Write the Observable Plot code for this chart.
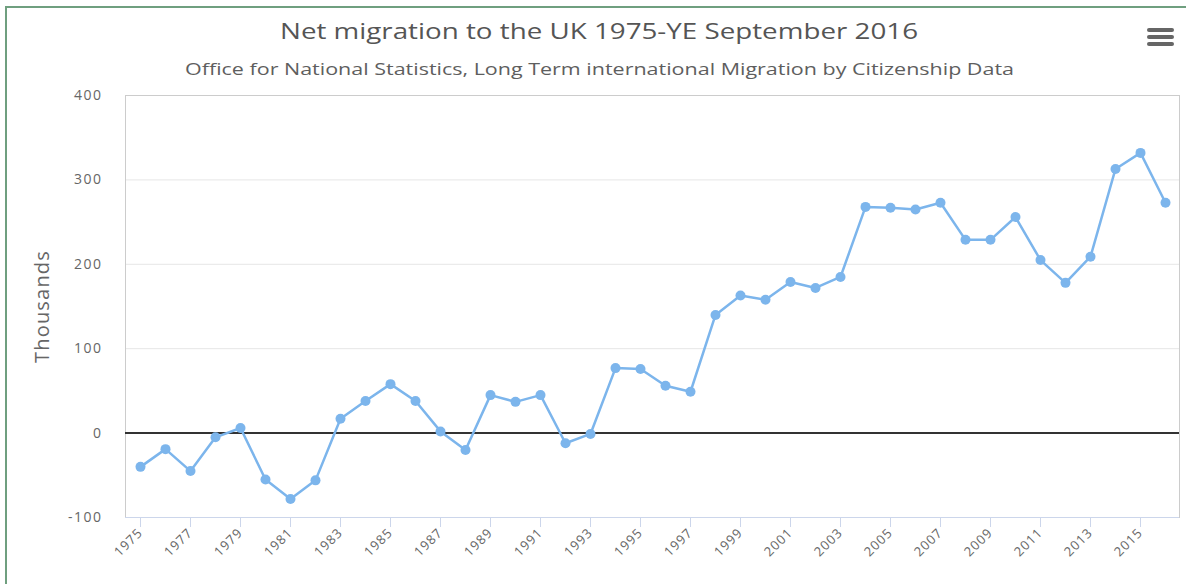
<!DOCTYPE html>
<html><head><meta charset="utf-8">
<script src="https://cdn.jsdelivr.net/npm/d3@7"></script>
<script src="https://cdn.jsdelivr.net/npm/@observablehq/plot@0.6"></script>
<style>
body{margin:0;background:#fff;font-family:"Open Sans",sans-serif;overflow:hidden}
#wrap{position:relative;width:1186px;height:584px;overflow:hidden}
#frame{position:absolute;left:5px;top:6px;width:1200px;height:600px;border:2px solid #6f9f7f;box-sizing:border-box;pointer-events:none}
#head{height:85px;position:relative}
#title{position:absolute;top:21px;left:280px;font-size:21px;line-height:21px;color:#555;white-space:nowrap;display:inline-block;transform-origin:0 0}
#subtitle{position:absolute;top:60px;left:185px;font-size:17px;line-height:17px;color:#5e5e5e;white-space:nowrap;display:inline-block;transform-origin:0 0}
#menu{position:absolute;left:1147px;top:28px;width:27px}
#menu div{height:4px;border-radius:2px;background:#666;margin-bottom:3px}
#chart svg{display:block}
</style></head>
<body>
<div id="wrap">
  <div id="head">
    <span id="title">Net migration to the UK 1975-YE September 2016</span>
    <span id="subtitle">Office for National Statistics, Long Term international Migration by Citizenship Data</span>
    <div id="menu"><div></div><div></div><div></div></div>
  </div>
  <div id="chart"></div>
  <div id="frame"></div>
</div>
<script>
const years = [1975,1976,1977,1978,1979,1980,1981,1982,1983,1984,1985,1986,1987,1988,1989,1990,1991,1992,1993,1994,1995,1996,1997,1998,1999,2000,2001,2002,2003,2004,2005,2006,2007,2008,2009,2010,2011,2012,2013,2014,2015,2016];
const values = [-40,-19,-45,-5,6,-55,-78,-56,17,38,58,38,2,-20,45,37,45,-12,-1,77,76,56,49,140,163,158,179,172,185,268,267,265,273,229,229,256,205,178,209,313,332,273];
const yTicks = [-100,0,100,200,300,400];
const xTickLabels = years.filter((y,i)=>i%2===0).map(String);
const yLabel = ["Thousands"];

function fit(id, target){
  const el = document.getElementById(id);
  const w = el.getBoundingClientRect().width;
  el.style.transform = `scaleX(${target / w})`;
}
fit("title", 638);
fit("subtitle", 829);

const data = years.map((y,i)=>({year:String(y), value:values[i]}));

const chart = Plot.plot({
  width:1186, height:499,
  marginTop:10, marginBottom:67, marginLeft:125, marginRight:7,
  style:{fontFamily:"'Open Sans', sans-serif", fontSize:"12px", color:"#666", background:"transparent"},
  x:{type:"point", domain:years.map(String), padding:0.5, label:null},
  y:{domain:[-100,400], label:null},
  marks:[
    Plot.gridY(yTicks.filter(d=>d!==-100 && d!==400), {stroke:"#e6e6e6", strokeOpacity:1}),
    Plot.frame({stroke:"#cccccc"}),
    Plot.ruleY([-100], {stroke:"#ccd6eb"}),
    Plot.ruleY([0], {stroke:"#333333", strokeWidth:2}),
    Plot.axisY(yTicks, {tickSize:0, tickPadding:23, fontSize:14, fill:"#666", label:null, tickFormat:d=>String(d)}),
    Plot.axisX(xTickLabels, {tickSize:10, stroke:"#ccd6eb", strokeOpacity:1, tickRotate:-45, fontSize:13, fill:"#666", tickPadding:3, label:null}),
    Plot.line(data, {x:"year", y:"value", stroke:"#7cb5ec", strokeWidth:2.5}),
    Plot.dot(data, {x:"year", y:"value", r:5, fill:"#7cb5ec", stroke:"none"}),
    Plot.text(yLabel, {text:d=>d, frameAnchor:"left", textAnchor:"middle", dx:-83, rotate:-90, fontSize:20, fill:"#666"})
  ]
});
document.getElementById("chart").appendChild(chart);
// widen tick label and axis-title glyph spacing to match the reference's wide typeface
chart.querySelectorAll('g[aria-label="y-axis tick label"] text').forEach(t=>t.style.letterSpacing="1.5px");
chart.querySelectorAll('g[aria-label="x-axis tick label"] text').forEach(t=>t.style.letterSpacing="1px");
chart.querySelectorAll('g[aria-label="text"] text').forEach(t=>t.style.letterSpacing="1.2px");
</script>
</body></html>
